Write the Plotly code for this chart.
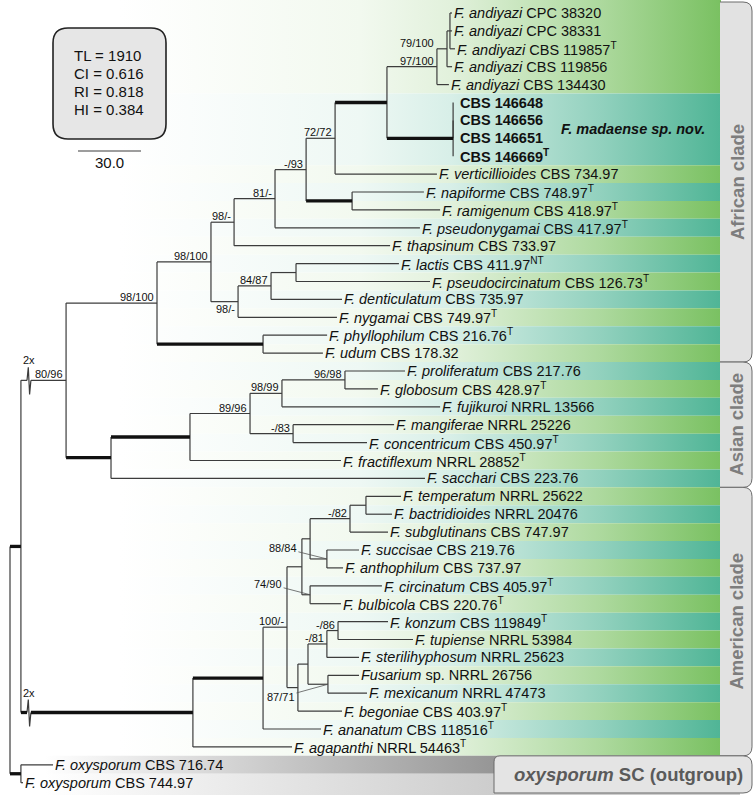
import plotly.graph_objects as go

# ------------------------------------------------------------------ data
tip_taxa = ["F. andiyazi", "F. andiyazi", "F. andiyazi", "F. andiyazi", "F. andiyazi",
            "", "", "", "",
            "F. verticillioides", "F. napiforme", "F. ramigenum", "F. pseudonygamai", "F. thapsinum",
            "F. lactis", "F. pseudocircinatum", "F. denticulatum", "F. nygamai", "F. phyllophilum", "F. udum",
            "F. proliferatum", "F. globosum", "F. fujikuroi", "F. mangiferae", "F. concentricum",
            "F. fractiflexum", "F. sacchari",
            "F. temperatum", "F. bactridioides", "F. subglutinans", "F. succisae", "F. anthophilum",
            "F. circinatum", "F. bulbicola",
            "F. konzum", "F. tupiense", "F. sterilihyphosum", "Fusarium", "F. mexicanum", "F. begoniae",
            "F. ananatum", "F. agapanthi",
            "F. oxysporum", "F. oxysporum"]
tip_strains = ["CPC 38320", "CPC 38331", "CBS 119857", "CBS 119856", "CBS 134430",
               "CBS 146648", "CBS 146656", "CBS 146651", "CBS 146669",
               "CBS 734.97", "CBS 748.97", "CBS 418.97", "CBS 417.97", "CBS 733.97",
               "CBS 411.97", "CBS 126.73", "CBS 735.97", "CBS 749.97", "CBS 216.76", "CBS 178.32",
               "CBS 217.76", "CBS 428.97", "NRRL 13566", "NRRL 25226", "CBS 450.97", "NRRL 28852", "CBS 223.76",
               "NRRL 25622", "NRRL 20476", "CBS 747.97", "CBS 219.76", "CBS 737.97", "CBS 405.97", "CBS 220.76",
               "CBS 119849", "NRRL 53984", "NRRL 25623", "sp. NRRL 26756", "NRRL 47473", "CBS 403.97",
               "CBS 118516", "NRRL 54463",
               "CBS 716.74", "CBS 744.97"]
tip_type = ["", "", "T", "", "",
            "", "", "", "T",
            "", "T", "T", "T", "",
            "NT", "T", "", "T", "T", "",
            "", "T", "", "", "T", "T", "",
            "", "", "", "", "", "T", "T",
            "T", "", "", "", "", "T", "T", "T",
            "", ""]
# cumulative depth of each tip (tree units, scale bar = 30.0)
tip_depths = [210.5, 210.5, 211.9, 210.5, 209.0,
              211.0, 211.0, 211.0, 211.0,
              203.3, 197.1, 204.8, 195.2, 181.0,
              185.2, 200.0, 158.1, 155.7, 151.0, 149.0,
              188.1, 175.2, 204.8, 182.9, 170.0, 157.6, 197.6,
              186.2, 181.9, 180.0, 166.2, 158.6, 177.1, 157.6,
              180.0, 191.9, 166.2, 166.2, 170.0, 158.1, 148.1, 134.3,
              20.5, 6.2]

node_names = ["root", "ingroup", "outgroup", "N66", "N157", "N211", "N234", "N275", "N306", "N335",
              "N387", "N437", "N447", "N450", "Nmad", "Nmad_a", "N352", "N238", "N271", "N296", "N263",
              "N111", "N190", "N250", "N282", "N345", "N293",
              "N193", "N263a", "N287", "N302", "N310", "N350", "N366", "N327", "N310b",
              "N298", "N308", "N327b", "N338", "N328"]
node_depths = [0.0, 5.2, 5.2, 26.7, 70.0, 95.7, 106.7, 126.2, 141.0, 154.8,
               179.5, 203.3, 208.1, 209.5, 211.0, 211.0, 162.9, 108.6, 124.3, 136.2, 120.5,
               48.1, 85.7, 114.3, 129.5, 159.5, 134.8,
               87.1, 120.5, 131.9, 139.0, 142.9, 161.9, 169.5, 150.9, 142.9,
               137.1, 141.9, 150.9, 156.2, 151.4]
node_children = [["ingroup", "outgroup"], ["N66", "N193"], [42, 43], ["N157", "N111"],
                 ["N211", "N263"], ["N234", "N238"], ["N275", 13], ["N306", 12], ["N335", "N352"],
                 ["N387", 9], ["N437", "Nmad"], ["N447", 4], ["N450", 3], [0, 1, 2], ["Nmad_a", 8],
                 [5, 6, 7], [10, 11], ["N271", 17], ["N296", 16], [14, 15], [18, 19],
                 ["N190", 26], ["N250", 25], ["N282", "N293"], ["N345", 22], [20, 21], [23, 24],
                 ["N263a", 41], ["N287", 40], ["N302", "N298"], ["N310", "N310b"], ["N350", "N327"],
                 ["N366", 29], [27, 28], [30, 31], [32, 33],
                 ["N308", 39], ["N327b", "N328"], ["N338", 36], [34, 35], [37, 38]]
node_support = ["", "", "", "80/96", "98/100", "98/100", "98/-", "81/-", "-/93", "72/72",
                "", "97/100", "79/100", "", "", "", "", "98/-", "84/87", "", "",
                "", "", "89/96", "98/99", "96/98", "-/83",
                "", "", "100/-", "", "", "-/82", "", "88/84", "74/90",
                "", "", "-/81", "-/86", "87/71"]
thick_stems = ["ingroup", "outgroup", "N387", "Nmad", "N352", "N263", "N111", "N190", "N193", "N263a"]
broken_stems = ["N66", "N193"]            # drawn shortened ("2x")
clades = [("African clade", 0, 19), ("Asian clade", 20, 26), ("American clade", 27, 41)]
outgroup_tips = (42, 43)
stats_text = ["TL = 1910", "CI = 0.616", "RI = 0.818", "HI = 0.384"]
scale_len = 30.0
madaense_tips = [5, 6, 7, 8]

# ------------------------------------------------------------------ geometry helpers
W, H = 756, 795
PX_PER_UNIT = 2.1
ROOT_PX = 10.0
ROW0_PX = 13.0
ROW_PX = 17.9


def ux(px):
    return (px - ROOT_PX) / PX_PER_UNIT


def uy(py):
    return (py - ROW0_PX) / ROW_PX


def pxp(px):
    return px / W


def pyp(py):
    return 1 - py / H


FONT = "Liberation Sans, Arial, Helvetica, sans-serif"
idx = {n: i for i, n in enumerate(node_names)}
parent = {}
for n, ch in zip(node_names, node_children):
    for c in ch:
        parent[c] = n

ycache = {}


def get_y(c):
    if isinstance(c, int):
        return float(c)
    if c not in ycache:
        ys = [get_y(k) for k in node_children[idx[c]]]
        ycache[c] = (min(ys) + max(ys)) / 2
    return ycache[c]


def get_x(c):
    return tip_depths[c] if isinstance(c, int) else node_depths[idx[c]]


fig = go.Figure()

# ------------------------------------------------------------------ background bands
def blend(rgb, a):
    return "rgb(%d,%d,%d)" % tuple(round(255 - (255 - v) * a) for v in rgb)


GREEN = (122, 193, 98)
TEAL = (80, 181, 150)
band_alpha = [(0.0, 0.0), (0.4, 0.1), (0.55, 0.22), (0.8, 0.62), (1.0, 1.0)]

bands = [(0, 4, GREEN), (5, 8, TEAL)]
for i in range(9, 42):
    bands.append((i, i, GREEN if (i - 9) % 2 == 0 else TEAL))

for a, b, col in bands:
    top = a - 0.5 if a > 0 else uy(0)
    bot = b + 0.5
    x0, x1 = ux(0), ux(721)
    fig.add_trace(go.Scatter(
        x=[x0, x1, x1, x0, x0], y=[top, top, bot, bot, top], mode="lines",
        line=dict(width=0), fill="toself", fillcolor=blend(col, 0.5),
        fillgradient=dict(type="horizontal", start=ux(120), stop=ux(720),
                          colorscale=[[t, blend(col, al)] for t, al in band_alpha]),
        hoverinfo="skip", showlegend=False))

for i, g in zip(outgroup_tips, (150, 205)):
    top, bot = i - 0.5, (i + 0.5 if i < 43 else uy(H))
    x0, x1 = ux(0), ux(740)
    fig.add_trace(go.Scatter(
        x=[x0, x1, x1, x0, x0], y=[top, top, bot, bot, top], mode="lines",
        line=dict(width=0), fill="toself", fillcolor="rgb(%d,%d,%d)" % (g, g, g),
        fillgradient=dict(type="horizontal", start=ux(45), stop=ux(494),
                          colorscale=[[0, "rgb(255,255,255)"], [1, "rgb(%d,%d,%d)" % (g, g, g)]]),
        hoverinfo="skip", showlegend=False))

# ------------------------------------------------------------------ tree branches
thin_x, thin_y, thick_x, thick_y = [], [], [], []


def add(xs, ys, thick):
    if thick:
        thick_x.extend(xs + [None]); thick_y.extend(ys + [None])
    else:
        thin_x.extend(xs + [None]); thin_y.extend(ys + [None])


zig_dx = [ux(27), ux(28.3), ux(29.6), ux(30.9)]
zig_dy = [0, -13 / ROW_PX, 14 / ROW_PX, 0]
break_labels = []
for n, d, ch in zip(node_names, node_depths, node_children):
    ys = [get_y(k) for k in ch]
    add([d, d], [min(ys), max(ys)], False)
    for k in ch:
        xk, yk = get_x(k), get_y(k)
        thick = k in thick_stems
        if k in broken_stems:
            add([d, zig_dx[0]], [yk, yk], thick)
            add(zig_dx, [yk + v for v in zig_dy], False)
            add([zig_dx[-1], xk], [yk, yk], thick)
            break_labels.append(yk)
        else:
            add([d, xk], [yk, yk], thick)

fig.add_trace(go.Scatter(x=thin_x, y=thin_y, mode="lines", line=dict(color="#3c3c3c", width=1.2),
                         hoverinfo="skip", showlegend=False))
fig.add_trace(go.Scatter(x=thick_x, y=thick_y, mode="lines", line=dict(color="#111111", width=3.3),
                         hoverinfo="skip", showlegend=False))

# scale bar
sb0 = ux(78)
fig.add_trace(go.Scatter(x=[sb0, sb0 + scale_len], y=[uy(151), uy(151)], mode="lines",
                         line=dict(color="#3c3c3c", width=1.2), hoverinfo="skip", showlegend=False))

ann = []
ann.append(dict(x=sb0 + scale_len / 2, y=uy(162), xref="x", yref="y", text="%.1f" % scale_len,
                showarrow=False, xanchor="center", yanchor="middle",
                font=dict(size=15, color="#111", family=FONT)))

# ------------------------------------------------------------------ tip labels
for i in range(len(tip_strains)):
    sup = "<sup>%s</sup>" % tip_type[i] if tip_type[i] else ""
    if tip_taxa[i]:
        txt = "<i>%s</i> %s%s" % (tip_taxa[i], tip_strains[i], sup)
        xs = 0
    else:
        txt = "<b>%s%s</b>" % (tip_strains[i], sup)
        xs = 5
    ann.append(dict(x=tip_depths[i], y=i, xref="x", yref="y", text=txt, showarrow=False,
                    xanchor="left", yanchor="middle", xshift=xs,
                    font=dict(size=14.5, color="#111", family=FONT)))

ann.append(dict(x=ux(559), y=sum(madaense_tips) / len(madaense_tips), xref="x", yref="y",
                text="<b><i>F. madaense sp. nov.</i></b>", showarrow=False,
                xanchor="left", yanchor="middle", yshift=0,
                font=dict(size=14.5, color="#111", family=FONT)))

# ------------------------------------------------------------------ support labels
leaders = {"N327": (-44, -11), "N310b": (-42, -11), "N328": (-47, 13)}
for n, d, s in zip(node_names, node_depths, node_support):
    if not s:
        continue
    y = get_y(n)
    f = dict(size=11, color="#111", family=FONT)
    if n in leaders:
        ax, ay = leaders[n]
        ann.append(dict(x=d, y=y, xref="x", yref="y", text=s, showarrow=True, arrowhead=0,
                        arrowwidth=0.8, arrowcolor="#555", ax=ax, ay=ay, font=f))
    elif n == "N238":
        ann.append(dict(x=d, y=y, xref="x", yref="y", text=s, showarrow=False, xanchor="right",
                        yanchor="top", xshift=-1, yshift=1, font=f))
    elif n == "N447":
        ann.append(dict(x=node_depths[idx[parent[n]]], y=y, xref="x", yref="y", text=s, showarrow=False,
                        xanchor="right", yanchor="bottom", xshift=-1, yshift=-2, font=f))
    else:
        ann.append(dict(x=d, y=y, xref="x", yref="y", text=s, showarrow=False, xanchor="right",
                        yanchor="bottom", xshift=-1, yshift=-2, font=f))

for yk in break_labels:
    ann.append(dict(x=ux(28.5), y=yk, xref="x", yref="y", text="2x", showarrow=False,
                    xanchor="center", yanchor="middle",
                    yshift=20, font=dict(size=11, color="#111", family=FONT)))

# ------------------------------------------------------------------ stats box
def path_px(cmds):
    out = []
    for c in cmds:
        if isinstance(c, str):
            out.append(c)
        else:
            out.append("%.5f,%.5f" % (pxp(c[0]), pyp(c[1])))
    return " ".join(out)


def rrect(x0, y0, x1, y1, r):
    return path_px(["M", (x0 + r, y0), "L", (x1 - r, y0), "Q", (x1, y0), (x1, y0 + r),
                    "L", (x1, y1 - r), "Q", (x1, y1), (x1 - r, y1), "L", (x0 + r, y1),
                    "Q", (x0, y1), (x0, y1 - r), "L", (x0, y0 + r), "Q", (x0, y0), (x0 + r, y0), "Z"])


shapes = [dict(type="path", xref="paper", yref="paper", path=rrect(53, 28, 166, 139, 15),
               fillcolor="#e6e6e6", line=dict(color="#222", width=1.6), layer="above")]
for k, t in enumerate(stats_text):
    ann.append(dict(x=pxp(72), y=pyp(56 + 18 * k), xref="paper", yref="paper", text=t,
                    showarrow=False, xanchor="left", yanchor="middle",
                    font=dict(size=15, color="#111", family=FONT)))

# ------------------------------------------------------------------ clade tabs
def ypx(i):
    return ROW0_PX + ROW_PX * i


for k, (name, a, b) in enumerate(clades):
    ty = 2 if a == 0 else ypx(a - 0.5)
    by = ypx(b + 0.5)
    shapes.append(dict(type="path", xref="paper", yref="paper",
                       path=path_px(["M", (720, ty), "L", (743, ty), "Q", (752, ty), (752, ty + 9),
                                     "L", (752, by - 9), "Q", (752, by), (743, by), "L", (720, by)]),
                       fillcolor="#e2e2e2", line=dict(color="#6a6a6a", width=1), layer="above"))
    ann.append(dict(x=pxp(737), y=pyp((ty + by) / 2), xref="paper", yref="paper", text="<b>%s</b>" % name,
                    textangle=-90, showarrow=False, xanchor="center", yanchor="middle",
                    font=dict(size=18.5, color="#7d7d7d", family=FONT)))

oty, oby = ypx(outgroup_tips[0] - 0.5), 793
shapes.append(dict(type="path", xref="paper", yref="paper",
                   path=path_px(["M", (494, oby), "L", (494, oty + 6), "Q", (494, oty), (500, oty),
                                 "L", (743, oty), "Q", (752, oty), (752, oty + 9), "L", (752, oby - 8),
                                 "Q", (752, oby), (743, oby), "Z"]),
                   fillcolor="#e4e4e4", line=dict(color="#6a6a6a", width=1), layer="above"))
ann.append(dict(x=pxp(628), y=pyp((oty + oby) / 2), xref="paper", yref="paper",
                text="<b><i>oxysporum</i> SC (outgroup)</b>", showarrow=False,
                xanchor="center", yanchor="middle",
                font=dict(size=18.5, color="#5a5a5a", family=FONT)))

fig.update_layout(
    width=W, height=H, margin=dict(l=0, r=0, t=0, b=0),
    paper_bgcolor="white", plot_bgcolor="white",
    xaxis=dict(range=[ux(0), ux(W)], visible=False, fixedrange=True),
    yaxis=dict(range=[uy(H), uy(0)], visible=False, fixedrange=True),
    annotations=ann, shapes=shapes, showlegend=False,
    font=dict(family=FONT),
)
fig.write_html("out.html", config={"displayModeBar": False},
               post_script="document.body.style.margin='0';document.body.style.overflow='hidden';")
